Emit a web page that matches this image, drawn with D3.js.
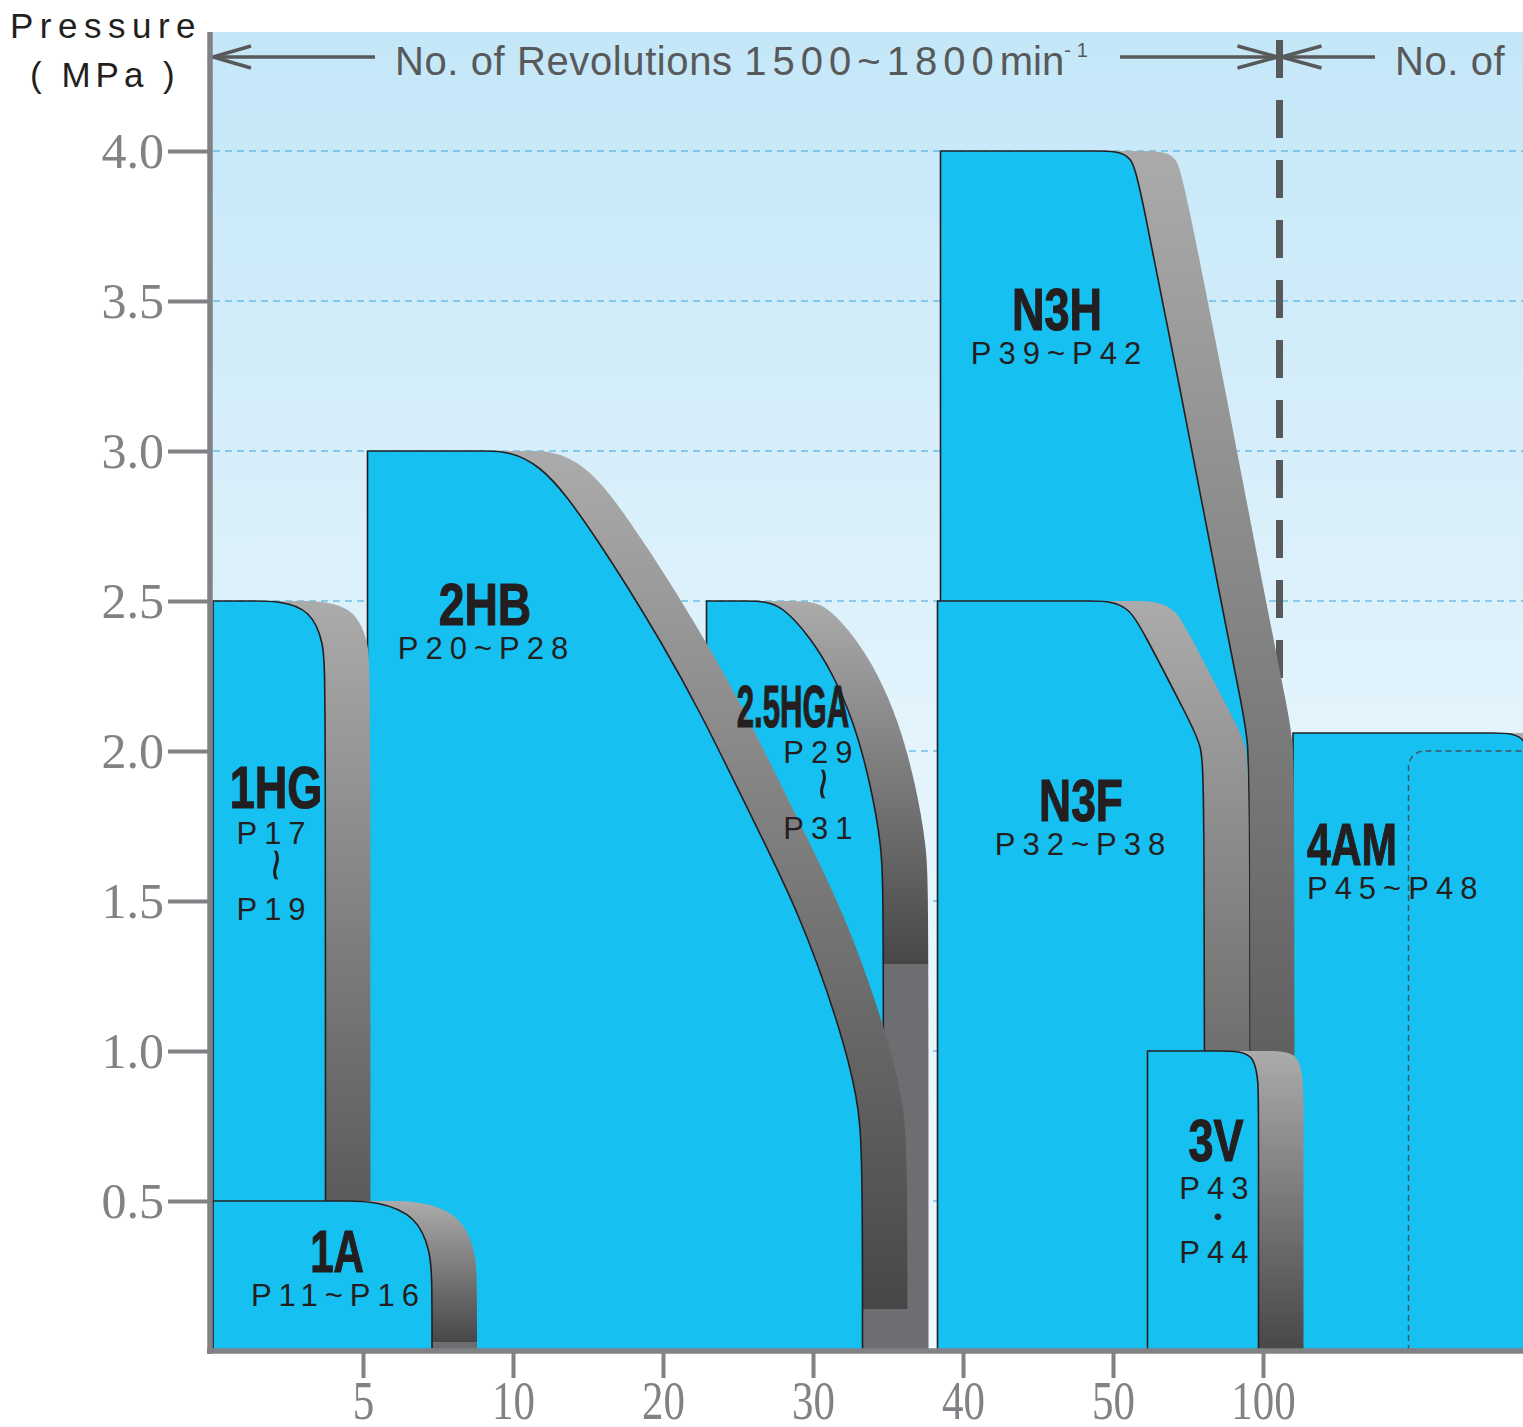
<!DOCTYPE html>
<html lang="en">
<head>
<meta charset="UTF-8">
<title>Pump selection chart</title>
<style>
  body { margin: 0; background: #fff; }
  .name { font-family: "Liberation Sans", Arial, sans-serif; font-weight: bold; font-size: 60px; fill: #231f20; stroke: #231f20; stroke-width: 1.2px; }
  .page { font-family: "Liberation Sans", Arial, sans-serif; font-size: 31px; fill: #231f20; letter-spacing: 7px; }
</style>
</head>
<body>
<div id="chart"></div>
<script src="https://d3js.org/d3.v7.min.js"></script>
<script>
var width = 1523, height = 1427;

// ---- data ----
var xTickLabels = ["5", "10", "20", "30", "40", "50", "100"];
var xTickPos = [1, 2, 3, 4, 5, 6, 7];
var yTicks = [0.5, 1.0, 1.5, 2.0, 2.5, 3.0, 3.5, 4.0];

// pumps in drawing order (back to front)
var pumpNames = ["2.5HGA", "2HB", "1HG", "1A", "4AM", "N3H", "N3F", "3V"];
var pumpPages = [["P29", "P31"], ["P20", "P28"], ["P17", "P19"], ["P11", "P16"],
                 ["P45", "P48"], ["P39", "P42"], ["P32", "P38"], ["P43", "P44"]];
var pumpLeft = [3.29, 1.03, 0, 0, 7.2, 4.85, 4.83, 6.23];
var pumpTop = [2.5, 3.0, 2.5, 0.5, 2.06, 4.0, 2.5, 1.0];

// right-hand boundary of each range, from the top corner down to 0 MPa
var edgeHGA = [[3.51, 2.5], [3.68, 2.5], [3.8, 2.48], [3.98, 2.38], [4.13, 2.26], [4.27, 2.1],
               [4.38, 1.9], [4.46, 1.68], [4.47, 1.5], [4.47, 0]];
var edge2HB = [[1.78, 3.0], [1.98, 3.0], [2.18, 2.95], [2.36, 2.85], [2.58, 2.69], [2.76, 2.55],
               [2.98, 2.37], [3.25, 2.13], [3.58, 1.79], [3.91, 1.46], [4.18, 1.08], [4.3, 0.84],
               [4.33, 0.67], [4.33, 0]];
var edge1HG = [[0.25, 2.5], [0.45, 2.5], [0.65, 2.47], [0.74, 2.36], [0.75, 2.24], [0.75, 0]];
var edge1A = [[0.85, 0.5], [1.1, 0.5], [1.36, 0.45], [1.45, 0.33], [1.46, 0.24], [1.46, 0]];
var edge4AM = [[8.5, 2.06], [8.68, 2.06], [8.76, 2.03], [8.8, 1.95], [8.8, 0]];
var edgeN3H = [[5.85, 4.0], [6.03, 4.0], [6.12, 3.98], [6.17, 3.91], [6.45, 3.2], [6.73, 2.47],
               [6.86, 2.15], [6.9, 2.03], [6.91, 1.9], [6.91, 0]];
var edgeN3F = [[5.81, 2.5], [6.0, 2.5], [6.11, 2.47], [6.18, 2.42], [6.51, 2.1], [6.59, 2.02],
               [6.61, 1.9], [6.61, 0]];
var edge3V = [[6.68, 1.0], [6.85, 1.0], [6.94, 0.98], [6.97, 0.9], [6.97, 0.8], [6.97, 0]];
var pumpEdges = [edgeHGA, edge2HB, edge1HG, edge1A, edge4AM, edgeN3H, edgeN3F, edge3V];

var inner4AM = [7.97, 2.0];   // dashed sub-range inside 4AM
var revBoundary = 7.11;       // 1500~1800 min-1 limit

// ---- layout / style ----
var blue = "#16c0f1";
var shadowDx = 45;
var shadeCut = { "2.5HGA": 1.29, "2HB": 0.14, "1A": 0.03 };
var labels = {
  "2.5HGA": { nx: 3.867, ny: 2.08, px: 4.033, sx: 0.52, mode: "stack" },
  "2HB":    { nx: 1.813, ny: 2.42, px: 1.8,   sx: 0.77, mode: "inline" },
  "1HG":    { nx: 0.42,  ny: 1.81, px: 0.387, sx: 0.75, mode: "stack" },
  "1A":     { nx: 0.827, ny: 0.263, px: 0.813, sx: 0.7, mode: "inline" },
  "4AM":    { nx: 7.293, ny: 1.62, px: 7.293, sx: 0.71, mode: "inline", anchor: "start" },
  "N3H":    { nx: 5.627, ny: 3.403, px: 5.62, sx: 0.75, mode: "inline" },
  "N3F":    { nx: 5.787, ny: 1.767, px: 5.78, sx: 0.74, mode: "inline" },
  "3V":     { nx: 6.687, ny: 0.633, px: 6.673, sx: 0.75, mode: "dot" }
};

var x = d3.scaleLinear().domain([0, 8.7333]).range([213, 1523]);
var y = d3.scaleLinear().domain([0, 4.4]).range([1351, 31]);

var svg = d3.select('#chart').append('svg')
  .attr('width', width)
  .attr('height', height);
var defs = svg.append('defs');

// background
var bg = defs.append('linearGradient').attr('id', 'bg')
  .attr('x1', 0).attr('y1', 0).attr('x2', 0).attr('y2', 1);
bg.append('stop').attr('offset', 0).attr('stop-color', '#c4e7f8');
bg.append('stop').attr('offset', 0.55).attr('stop-color', '#e4f4fc');
bg.append('stop').attr('offset', 1).attr('stop-color', '#eef8fd');
svg.append('rect')
  .attr('x', 210).attr('y', 32)
  .attr('width', width - 210).attr('height', y(0) - 32)
  .attr('fill', 'url(#bg)');

// grid lines
svg.append('g').selectAll('line')
  .data(yTicks)
  .join('line')
  .attr('x1', x(0)).attr('x2', width)
  .attr('y1', function(d) { return y(d); })
  .attr('y2', function(d) { return y(d); })
  .attr('stroke', '#35a5dc')
  .attr('stroke-width', 1.2)
  .attr('stroke-dasharray', '7,5');

// revolution limit
svg.append('line')
  .attr('x1', x(revBoundary)).attr('x2', x(revBoundary))
  .attr('y1', 40).attr('y2', y(0))
  .attr('stroke', '#58595b')
  .attr('stroke-width', 7)
  .attr('stroke-dasharray', '38,22');

// annotation arrows
var ann = svg.append('g')
  .attr('stroke', '#58595b')
  .attr('stroke-width', 3.5)
  .attr('fill', 'none');
var ay = 57, bx = x(revBoundary);
ann.append('path').attr('d', 'M' + (x(0) + 38) + ',' + (ay - 11) + 'L' + x(0) + ',' + ay + 'L' + (x(0) + 38) + ',' + (ay + 11));
ann.append('line').attr('x1', x(0)).attr('x2', 375).attr('y1', ay).attr('y2', ay);
ann.append('line').attr('x1', 1120).attr('x2', bx - 2).attr('y1', ay).attr('y2', ay);
ann.append('path').attr('d', 'M' + (bx - 42) + ',' + (ay - 11) + 'L' + (bx - 2) + ',' + ay + 'L' + (bx - 42) + ',' + (ay + 11));
ann.append('path').attr('d', 'M' + (bx + 42) + ',' + (ay - 11) + 'L' + (bx + 2) + ',' + ay + 'L' + (bx + 42) + ',' + (ay + 11));
ann.append('line').attr('x1', bx + 2).attr('x2', 1375).attr('y1', ay).attr('y2', ay);

var t1 = svg.append('text')
  .attr('x', 395).attr('y', 75)
  .attr('fill', '#58595b')
  .style('font', '40px "Liberation Sans", Arial, sans-serif');
t1.append('tspan').style('letter-spacing', '0.6px').text('No. of Revolutions ');
t1.append('tspan').style('letter-spacing', '6px').text('1500~1800');
t1.append('tspan').text('min');
t1.append('tspan').attr('dy', -18).style('font-size', '20px').style('letter-spacing', '6px').text('-1');
svg.append('text')
  .attr('x', 1395).attr('y', 75)
  .attr('fill', '#58595b')
  .style('font', '40px "Liberation Sans", Arial, sans-serif')
  .style('letter-spacing', '0.6px')
  .text('No. of');

// ---- pump ranges ----
var edgeLine = d3.line()
  .x(function(d) { return x(d[0]); })
  .y(function(d) { return y(d[1]); })
  .curve(d3.curveBasis);

function outline(i) {
  var e = pumpEdges[i];
  var last = e[e.length - 1];
  return 'M' + x(pumpLeft[i]) + ',' + y(0) +
    'L' + x(pumpLeft[i]) + ',' + y(pumpTop[i]) +
    'L' + edgeLine(e).slice(1) +
    'L' + x(last[0]) + ',' + y(0) + 'Z';
}

pumpNames.forEach(function(name, i) {
  var top = y(pumpTop[i]), bottom = y(0);
  var cut = shadeCut[name] !== undefined ? (y(shadeCut[name]) - top) / (bottom - top) : 1;
  var grad = defs.append('linearGradient')
    .attr('id', 'shade' + i)
    .attr('gradientUnits', 'userSpaceOnUse')
    .attr('x1', 0).attr('x2', 0)
    .attr('y1', top).attr('y2', bottom);
  grad.append('stop').attr('offset', 0).attr('stop-color', '#ababab');
  grad.append('stop').attr('offset', cut).attr('stop-color', '#474747');
  grad.append('stop').attr('offset', cut).attr('stop-color', '#6d6e71');
  grad.append('stop').attr('offset', 1).attr('stop-color', '#6d6e71');

  var g = svg.append('g').attr('class', 'pump');
  g.append('path')
    .attr('d', outline(i))
    .attr('transform', 'translate(' + shadowDx + ',0)')
    .attr('fill', 'url(#shade' + i + ')');
  g.append('path')
    .attr('d', outline(i))
    .attr('fill', blue)
    .attr('stroke', '#231f20')
    .attr('stroke-width', 1.6)
    .attr('stroke-linejoin', 'round');
});

// dashed sub-range in 4AM
var ix = x(inner4AM[0]), iy = y(inner4AM[1]), r = 16;
var ip = d3.path();
ip.moveTo(ix, y(0));
ip.lineTo(ix, iy + r);
ip.arcTo(ix, iy, ix + r, iy, r);
ip.lineTo(width + 5, iy);
svg.append('path')
  .attr('d', ip.toString())
  .attr('fill', 'none')
  .attr('stroke', '#3f5560')
  .attr('stroke-width', 1.5)
  .attr('stroke-dasharray', '6,4');

// labels
pumpNames.forEach(function(name, i) {
  var L = labels[name];
  var anchor = L.anchor || 'middle';
  var nx = x(L.nx), ny = y(L.ny), px = x(L.px);
  svg.append('text')
    .attr('class', 'name')
    .attr('text-anchor', anchor)
    .attr('transform', 'translate(' + nx + ',' + ny + ') scale(' + L.sx + ',1)')
    .text(name);
  var shift = anchor === 'middle' ? 3.5 : 0;
  var pages = pumpPages[i];
  if (L.mode === 'inline') {
    svg.append('text')
      .attr('class', 'page')
      .attr('text-anchor', anchor)
      .attr('x', px + shift).attr('y', ny + 34)
      .text(pages[0] + '~' + pages[1]);
  } else {
    var lowY = L.mode === 'dot' ? ny + 102 : ny + 112;
    var topY = L.mode === 'dot' ? ny + 38 : ny + 36;
    svg.append('text').attr('class', 'page').attr('text-anchor', 'middle')
      .attr('x', px + shift).attr('y', topY).text(pages[0]);
    svg.append('text').attr('class', 'page').attr('text-anchor', 'middle')
      .attr('x', px + shift).attr('y', lowY).text(pages[1]);
    if (L.mode === 'dot') {
      svg.append('text').attr('text-anchor', 'middle')
        .attr('x', px + 4).attr('y', ny + 64)
        .style('font', '24px "Liberation Sans", sans-serif')
        .attr('fill', '#231f20')
        .text('•');
    } else {
      svg.append('text').attr('text-anchor', 'middle')
        .attr('transform', 'translate(' + (px + 3) + ',' + (ny + 57) + ') rotate(90) scale(1.25,1)')
        .attr('dy', '0.3em')
        .style('font', '46px "Liberation Sans", sans-serif')
        .attr('fill', '#231f20')
        .text('~');
    }
  }
});

// ---- axes ----
var gy = svg.append('g')
  .attr('transform', 'translate(210,0)')
  .call(d3.axisLeft(y).tickValues(yTicks).tickSize(42).tickPadding(4).tickFormat(d3.format('.1f')));
gy.select('.domain').remove();
gy.selectAll('line').attr('stroke', '#808285').attr('stroke-width', 4);
gy.selectAll('text')
  .attr('fill', '#808285')
  .style('font', '50px "Liberation Serif", serif');

var gx = svg.append('g')
  .attr('transform', 'translate(0,' + y(0) + ')')
  .call(d3.axisBottom(x).tickValues(xTickPos).tickSize(27).tickPadding(2)
    .tickFormat(function(d, i) { return xTickLabels[i]; }));
gx.select('.domain').remove();
gx.selectAll('line').attr('stroke', '#808285').attr('stroke-width', 4);
gx.selectAll('text')
  .attr('fill', '#808285')
  .attr('transform', 'scale(0.78,1)')
  .style('font', '55px "Liberation Serif", serif');

svg.append('line')
  .attr('x1', 210).attr('x2', 210)
  .attr('y1', 32).attr('y2', y(0) + 3)
  .attr('stroke', '#808285').attr('stroke-width', 5.5);
svg.append('line')
  .attr('x1', 207).attr('x2', width)
  .attr('y1', y(0)).attr('y2', y(0))
  .attr('stroke', '#808285').attr('stroke-width', 5.5);

// axis title
svg.append('text')
  .attr('x', 10).attr('y', 38)
  .attr('fill', '#231f20')
  .style('font', '35px "Liberation Sans", Arial, sans-serif')
  .style('letter-spacing', '6.5px')
  .text('Pressure');
svg.append('text')
  .attr('x', 30).attr('y', 87)
  .attr('fill', '#231f20')
  .style('font', '35px "Liberation Sans", Arial, sans-serif')
  .style('letter-spacing', '5px')
  .text('( MPa )');
</script>
</body>
</html>
